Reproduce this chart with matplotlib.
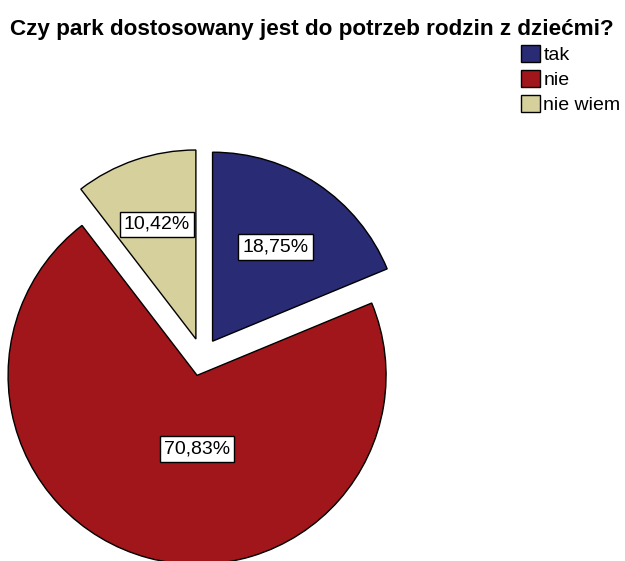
import matplotlib
matplotlib.use("Agg")
import matplotlib.pyplot as plt
from matplotlib.patches import Patch
import numpy as np

title = "Czy park dostosowany jest do potrzeb rodzin z dziećmi?"
categories = ["tak", "nie", "nie wiem"]
values = [18.75, 70.83, 10.42]
colors = ["#292b74", "#a1161b", "#d5d09c"]

plt.rcParams['font.family'] = ['Liberation Sans', 'DejaVu Sans']

W, H = 625, 561
fig = plt.figure(figsize=(W / 100, H / 100), dpi=100)
ax = fig.add_axes([0, 0, 1, 1])
ax.axis('off')

cx, cy, R = 202, H - 357, 189
off = 19  # explode distance in data units (pixels)
wedges, texts, autotexts = ax.pie(
    values, colors=colors, startangle=90, counterclock=False,
    explode=[off, off, off], center=(cx, cy), radius=R,
    autopct=lambda p: f"{p:.2f}%".replace('.', ','), pctdistance=0.6,
    wedgeprops=dict(edgecolor='black', linewidth=1.0),
    textprops=dict(fontsize=14, color='black'))
ax.set_xlim(0, W)
ax.set_ylim(0, H)
ax.set_aspect('equal')

fracs = [0.6, 0.39, 0.64]
angle_adj = [0, 15, 0]
for w, t, f, da in zip(wedges, autotexts, fracs, angle_adj):
    ang = np.deg2rad((w.theta1 + w.theta2) / 2 + da)
    wx, wy = w.center
    t.set_position((wx + f * R * np.cos(ang), wy + f * R * np.sin(ang)))
    t.set_bbox(dict(boxstyle='square,pad=0.22', facecolor='white', edgecolor='black', linewidth=1.0))

fig.text(10 / W, 1 - 35 / H, title, fontsize=16.2, fontweight='bold', ha='left', va='baseline')

handles = [Patch(facecolor=c, edgecolor='black', linewidth=1.0) for c in colors]
fig.legend(handles, categories, loc='upper left', bbox_to_anchor=(521 / W, 1 - 45 / H),
           frameon=False, fontsize=14, handlelength=1.0, handleheight=0.95,
           handletextpad=0.15, labelspacing=0.3, borderpad=0, borderaxespad=0)

fig.savefig("out.png", dpi=100)
